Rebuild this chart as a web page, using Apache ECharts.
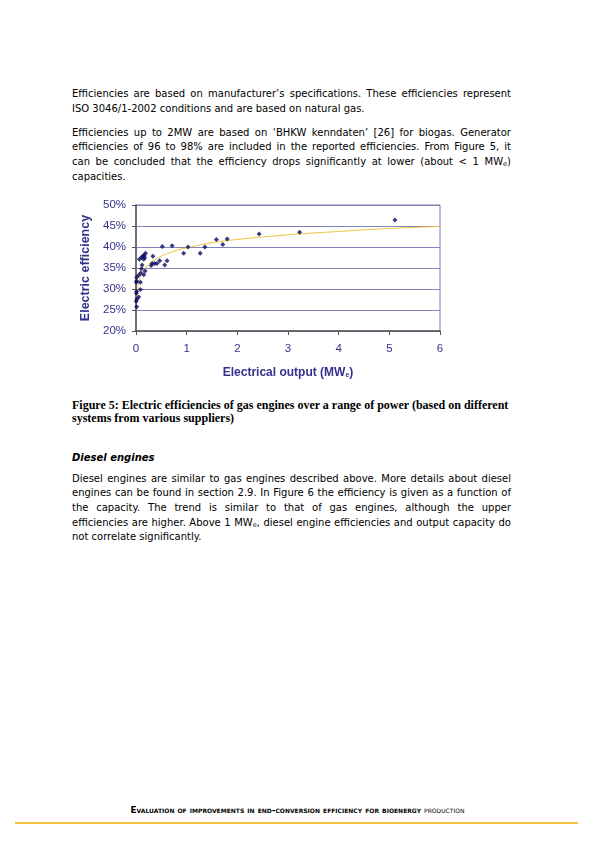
<!DOCTYPE html>
<html>
<head>
<meta charset="utf-8">
<script src="https://cdn.jsdelivr.net/npm/echarts@6/dist/echarts.min.js"></script>
<style>
  html, body { margin: 0; padding: 0; background: #fff; }
  body { width: 595px; height: 841px; position: relative; overflow: hidden; font-family: "DejaVu Sans", Verdana, sans-serif; color: #000; }
  .blk { position: absolute; left: 72px; width: 439px; font-size: 10px; }
  .ln { height: 14.65px; line-height: 14.65px; white-space: nowrap; }
  .j { text-align: justify; text-align-last: justify; }
  .cap { position: absolute; left: 72px; width: 445px; font-family: "Liberation Serif", "Times New Roman", serif; font-weight: bold; font-size: 12px; }
  .cap div { height: 13.2px; line-height: 13.2px; white-space: nowrap; }
  sub { font-size: 6.5px; vertical-align: -1px; line-height: 0; }
  #chart { position: absolute; left: 0; top: 190px; width: 595px; height: 200px; }
  #foot { position: absolute; left: 0; width: 595px; top: 805px; text-align: center; font-size: 8.9px; font-variant: small-caps; font-weight: bold; }
  #foot span { font-weight: normal; }
  #rule { position: absolute; left: 15px; width: 563px; top: 821.5px; height: 2.5px; background: #f4c33f; }
</style>
</head>
<body>
<div class="blk" style="top:87.2px">
  <div class="ln j">Efficiencies are based on manufacturer’s specifications. These efficiencies represent</div>
  <div class="ln">ISO 3046/1-2002 conditions and are based on natural gas.</div>
</div>
<div class="blk" style="top:125.7px">
  <div class="ln j">Efficiencies up to 2MW are based on ‘BHKW kenndaten’ [26] for biogas. Generator</div>
  <div class="ln j">efficiencies of 96 to 98% are included in the reported efficiencies. From Figure 5, it</div>
  <div class="ln j">can be concluded that the efficiency drops significantly at lower (about &lt; 1 MW<sub>e</sub>)</div>
  <div class="ln">capacities.</div>
</div>

<div id="chart"></div>

<div class="cap" style="top:398.5px">
  <div>Figure 5: Electric efficiencies of gas engines over a range of power (based on different</div>
  <div>systems from various suppliers)</div>
</div>

<div class="blk" style="top:450.7px">
  <div class="ln" style="font-weight:bold;font-style:italic">Diesel engines</div>
</div>
<div class="blk" style="top:471.6px">
  <div class="ln j">Diesel engines are similar to gas engines described above. More details about diesel</div>
  <div class="ln j">engines can be found in section 2.9. In Figure 6 the efficiency is given as a function of</div>
  <div class="ln j">the capacity. The trend is similar to that of gas engines, although the upper</div>
  <div class="ln j">efficiencies are higher. Above 1 MW<sub>e</sub>, diesel engine efficiencies and output capacity do</div>
  <div class="ln">not correlate significantly.</div>
</div>

<div id="foot">Evaluation of improvements in end-conversion efficiency for bioenergy <span>production</span></div>
<div id="rule"></div>

<script>
// Electrical output (MWe) of each gas engine system
const outputMW = [0.013, 0.004, 0.02, 0.053, 0.006, 0.013, 0.087, 0.006, 0.013, 0.087,
  0.013, 0.053, 0.093, 0.153, 0.18, 0.107, 0.12, 0.067, 0.107, 0.133,
  0.16, 0.187, 0.153, 0.173, 0.333, 0.30, 0.32, 0.367, 0.413, 0.467,
  0.52, 0.567, 0.613, 0.713, 0.94, 1.027, 1.267, 1.36, 1.587, 1.713,
  1.80, 2.43, 3.23, 5.11];
// Electric efficiency (%) of each system
const efficiency = [25.8, 27.1, 27.6, 28.1, 29.0, 29.4, 29.9, 31.6, 31.9, 31.6,
  32.8, 33.3, 33.8, 33.4, 34.3, 34.8, 35.7, 37.1, 37.5, 37.8,
  38.1, 38.5, 37.1, 37.5, 37.8, 35.6, 36.1, 36.1, 36.1, 36.7,
  40.1, 35.7, 36.7, 40.3, 38.5, 40.0, 38.5, 40.0, 41.8, 40.6,
  41.9, 43.1, 43.5, 46.4];
// Trend line
const trendX = [0.012, 0.02, 0.03, 0.05, 0.075, 0.1, 0.15, 0.2, 0.3, 0.5, 0.75, 1, 1.5, 2, 3, 4, 5, 6];
const trendY = [27.2, 28.6, 29.8, 31.3, 32.4, 33.2, 34.4, 35.2, 36.4, 37.8, 39.0, 39.8, 41.0, 41.8, 42.9, 43.7, 44.4, 44.9];
// Axis ticks
const yTicks = {min: 20, max: 50, step: 5};
const xTicks = {min: 0, max: 6, step: 1};

const labelColor = '#33338c';
const chart = echarts.init(document.getElementById('chart'));
chart.setOption({
  animation: false,
  grid: { left: 136, top: 15, width: 304, height: 126, show: true, borderColor: '#7a7ab4', borderWidth: 1, backgroundColor: 'transparent' },
  xAxis: {
    type: 'value', min: xTicks.min, max: xTicks.max, interval: xTicks.step,
    axisLine: { show: true, lineStyle: { color: '#555', width: 1.5 } },
    axisTick: { show: true, inside: false, length: 4, lineStyle: { color: '#555' } },
    splitLine: { show: false },
    axisLabel: { color: labelColor, fontFamily: 'Liberation Sans, Arial', fontSize: 11.5, margin: 12 },
    name: 'Electrical output (MW{s|e})', nameLocation: 'middle', nameGap: 36,
    nameTextStyle: { color: labelColor, fontFamily: 'Liberation Sans, Arial', fontWeight: 'bold', fontSize: 12,
      rich: { s: { fontSize: 7, fontWeight: 'bold', color: labelColor, verticalAlign: 'bottom', padding: [5, 0, 0, 0], fontFamily: 'Liberation Sans, Arial' } } }
  },
  yAxis: {
    type: 'value', min: yTicks.min, max: yTicks.max, interval: yTicks.step,
    axisLine: { show: true, lineStyle: { color: '#555', width: 1.5 } },
    axisTick: { show: true, inside: false, length: 4, lineStyle: { color: '#555' } },
    splitLine: { show: true, lineStyle: { color: '#8484bc', width: 1.2 } },
    axisLabel: { color: labelColor, fontFamily: 'Liberation Sans, Arial', fontSize: 11.5, margin: 10, formatter: '{value}%' },
    name: 'Electric efficiency', nameLocation: 'middle', nameGap: 36,
    nameTextStyle: { color: labelColor, fontFamily: 'Liberation Sans, Arial', fontWeight: 'bold', fontSize: 12.5 }
  },
  series: [
    {
      type: 'line', data: trendX.map((x, i) => [x, trendY[i]]), showSymbol: false, smooth: true,
      lineStyle: { color: '#f0c23a', width: 1 }, z: 2
    },
    {
      type: 'scatter', data: outputMW.map((x, i) => [x, efficiency[i]]), symbol: 'diamond', symbolSize: 5,
      itemStyle: { color: '#0a0a5e' }, z: 3
    }
  ]
});
</script>
</body>
</html>
